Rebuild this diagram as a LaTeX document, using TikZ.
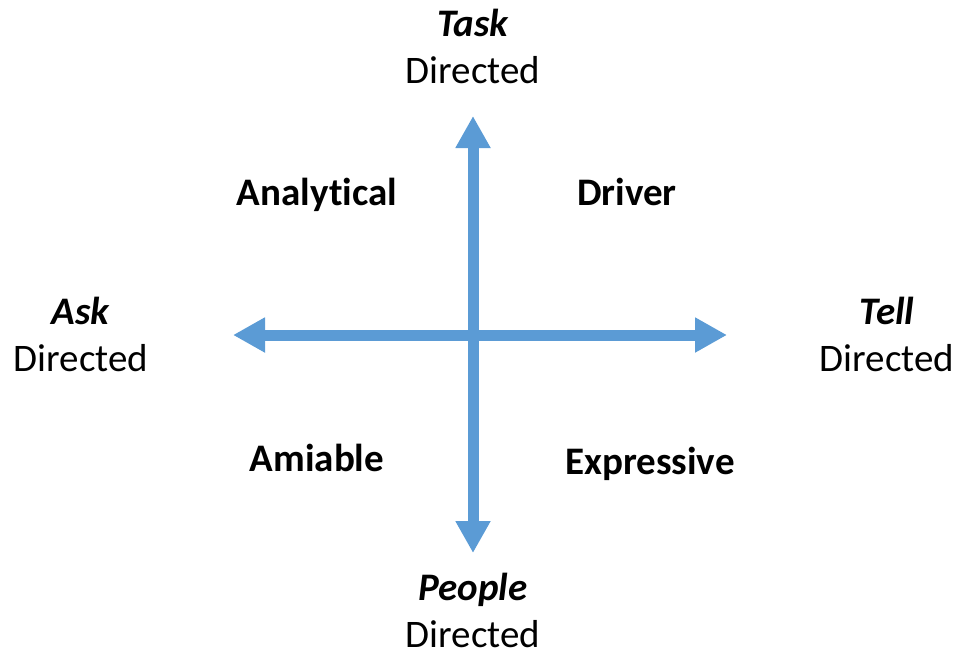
\documentclass[tikz,border=0pt]{standalone}
\usepackage{fontspec}
\setmainfont{Carlito}[Ligatures={NoCommon}]
\usepackage{xcolor}
\definecolor{AxisBlue}{HTML}{5B9BD5}
\usetikzlibrary{arrows.meta, positioning}
\tikzset{
  % Label styles
  dirlabel/.style={anchor=base, align=center, inner sep=0pt, font=\fontsize{39}{47}\selectfont},
  stylelabel/.style={anchor=base, inner sep=0pt, font=\fontsize{39}{47}\selectfont\bfseries},
  % Arrow styles
  axisarrow/.style={{Triangle[width=33pt, length=32pt]}-{Triangle[width=33pt, length=32pt]}, line width=11pt, AxisBlue}
}
\begin{document}
\begin{tikzpicture}[x=1pt, y=-1pt]
  \useasboundingbox (0,0) rectangle (959,657);

  % axis ends
  \coordinate (askend) at (233,335);
  \coordinate (tellend) at (727,335);
  \coordinate (taskend) at (473,116);
  \coordinate (peopleend) at (473,553);

  \draw[axisarrow] (askend) -- (tellend);
  \draw[axisarrow] (taskend) -- (peopleend);

  % directions (base = last line)
  \node[dirlabel] (task) at (473,83) {\textbf{\textit{Task}}\\Directed};
  \node[dirlabel] (ask) at (81,371) {\textbf{\textit{Ask}}\\Directed};
  \node[dirlabel] (tell) at (887,371) {\textbf{\textit{Tell}}\\Directed};
  \node[dirlabel] (people) at (473,647) {\textbf{\textit{People}}\\Directed};

  % quadrants
  \node[stylelabel] (analytical) at (317,205) {Analytical};
  \node[stylelabel] (driver) at (627,205) {Driver};
  \node[stylelabel] (amiable) at (317,471) {Amiable};
  \node[stylelabel] (expressive) at (650,474) {Expressive};
\end{tikzpicture}
\end{document}
